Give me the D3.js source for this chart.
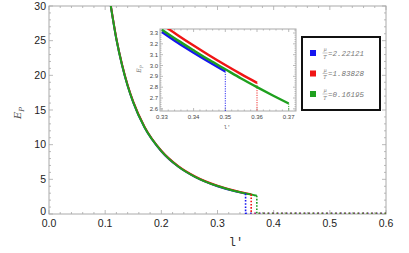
<!DOCTYPE html>
<html>
<head>
<meta charset="utf-8">
<script src="https://cdn.jsdelivr.net/npm/d3@7"></script>
<style>
  body { margin: 0; background: #fff; }
  svg { display: block; }
</style>
</head>
<body>
<script>
// values
const lValues = [0.11, 0.12, 0.13, 0.14, 0.15, 0.17, 0.20, 0.23, 0.26, 0.30, 0.33, 0.335, 0.34, 0.345, 0.35, 0.355, 0.36, 0.365, 0.37];
const blueE  = [30.0, 25.2, 21.5, 18.5, 16.1, 12.5, 9.05, 6.84, 5.35, 4.01, 3.31, 3.21, 3.118, 3.030, 2.945, null, null, null, null];
const redE   = [30.1, 25.3, 21.6, 18.6, 16.2, 12.6, 9.12, 6.90, 5.41, 4.07, 3.38, 3.28, 3.184, 3.092, 3.004, 2.92, 2.84, null, null];
const greenE = [30.0, 25.2, 21.5, 18.5, 16.1, 12.5, 9.07, 6.86, 5.37, 4.03, 3.33, 3.232, 3.140, 3.050, 2.965, 2.880, 2.800, 2.723, 2.649];
const cutoffs = [0.35, 0.36, 0.37];
const muT = ["2.22121", "1.83828", "0.16195"];
const colors = ["#1515f0", "#f01515", "#1ea01e"];
const xTicks = [0.0, 0.1, 0.2, 0.3, 0.4, 0.5, 0.6];
const yTicks = [0, 5, 10, 15, 20, 25, 30];
const insetXTicks = [0.33, 0.34, 0.35, 0.36, 0.37];
const insetYTicks = [2.6, 2.7, 2.8, 2.9, 3.0, 3.1, 3.2, 3.3];

const width = 409, height = 253;
const series = [blueE, redE, greenE].map((vals, i) => ({
  color: colors[i],
  cut: cutoffs[i],
  pts: lValues.map((l, j) => ({l, e: vals[j]})).filter(p => p.e != null)
}));

const svg = d3.select("body").append("svg").attr("width", width).attr("height", height);
const defs = svg.append("defs");

function frame(g, x, y, xt, yt, xMinor, yMinor, big, fmtX, fmtY) {
  const [x0, x1] = x.range(), [y0, y1] = y.range();
  const tickCol = "#aaa";
  g.append("rect").attr("x", x0).attr("y", y1).attr("width", x1 - x0).attr("height", y0 - y1)
    .attr("fill", "none").attr("stroke", tickCol).attr("stroke-width", 1);
  const maj = big ? 4 : 3, mn = big ? 2 : 1.5;
  const tk = g.append("g").attr("stroke", tickCol).attr("stroke-width", 0.8);
  xMinor.forEach(v => {
    const L = xt.some(t => Math.abs(t - v) < 1e-9) ? maj : mn;
    tk.append("line").attr("x1", x(v)).attr("x2", x(v)).attr("y1", y0).attr("y2", y0 - L);
    tk.append("line").attr("x1", x(v)).attr("x2", x(v)).attr("y1", y1).attr("y2", y1 + L);
  });
  yMinor.forEach(v => {
    const L = yt.some(t => Math.abs(t - v) < 1e-9) ? maj : mn;
    tk.append("line").attr("y1", y(v)).attr("y2", y(v)).attr("x1", x0).attr("x2", x0 + L);
    tk.append("line").attr("y1", y(v)).attr("y2", y(v)).attr("x1", x1).attr("x2", x1 - L);
  });
  const fs = big ? 10.5 : 6;
  g.append("g").selectAll("text").data(xt).join("text")
    .attr("x", d => x(d)).attr("y", y0 + (big ? 12.5 : 8)).attr("text-anchor", "middle")
    .attr("font-family", "Liberation Sans, Arial, sans-serif").attr("font-size", fs)
    .attr("fill", big ? "#222" : "#444").text(fmtX);
  g.append("g").selectAll("text").data(yt).join("text")
    .attr("x", x0 - (big ? 3 : 2)).attr("y", d => y(d) - (big && d === yt[0] ? 2.5 : 0))
    .attr("dy", "0.35em").attr("text-anchor", "end")
    .attr("font-family", "Liberation Sans, Arial, sans-serif").attr("font-size", fs)
    .attr("fill", big ? "#222" : "#444").text(fmtY);
}

// ---- main plot
const x = d3.scaleLinear([0, 0.6], [49, 386]);
const y = d3.scaleLinear([0, 30], [214, 6]);
const main = svg.append("g");
frame(main, x, y, xTicks, yTicks, d3.range(0, 0.6001, 0.02), d3.range(0, 30.001, 1), true,
  d3.format(".1f"), d3.format("d"));

defs.append("clipPath").attr("id", "mainClip").append("rect")
  .attr("x", 49).attr("y", 6).attr("width", 337).attr("height", 208);

const line = d3.line().curve(d3.curveMonotoneX).x(d => x(d.l)).y(d => y(d.e));
const mg = main.append("g").attr("clip-path", "url(#mainClip)");
series.forEach(s => {
  mg.append("path").attr("d", line(s.pts)).attr("fill", "none")
    .attr("stroke", s.color).attr("stroke-width", 2);
});
series.forEach(s => {
  const last = s.pts[s.pts.length - 1];
  mg.append("line").attr("x1", x(s.cut)).attr("x2", x(s.cut)).attr("y1", y(last.e)).attr("y2", y(0))
    .attr("stroke", s.color).attr("stroke-width", 1.6).attr("stroke-dasharray", "1.6,1.6");
});
series.forEach((s, i) => {
  mg.append("line").attr("x1", x(s.cut)).attr("x2", x(0.6)).attr("y1", y(0) - 0.8).attr("y2", y(0) - 0.8)
    .attr("stroke", s.color).attr("stroke-width", 1.6).attr("stroke-dasharray", "1.5,3")
    .attr("stroke-dashoffset", i * 1.5).attr("opacity", 0.7);
});

// axis labels
const ey = svg.append("text").attr("transform", "translate(21,113) rotate(-90)")
  .attr("text-anchor", "middle").attr("font-family", "DejaVu Serif, serif").attr("font-style", "italic")
  .attr("font-size", 10).attr("fill", "#555");
ey.append("tspan").text("E");
ey.append("tspan").attr("font-size", 7).attr("dy", 3).text("P");
svg.append("text").attr("x", 236).attr("y", 246).attr("text-anchor", "middle")
  .attr("font-family", "Liberation Mono, monospace").attr("font-size", 12).attr("fill", "#333").text("l'");

// ---- inset
const xi = d3.scaleLinear([0.3294, 0.3723], [160, 296]);
const yi = d3.scaleLinear([2.58, 3.337], [111, 29]);
const inset = svg.append("g");
inset.append("rect").attr("x", 160).attr("y", 29).attr("width", 136).attr("height", 82).attr("fill", "#fff");
frame(inset, xi, yi, insetXTicks, insetYTicks, d3.range(0.33, 0.3721, 0.002), d3.range(2.6, 3.3301, 0.02), false,
  d3.format(".2f"), d3.format(".1f"));
defs.append("clipPath").attr("id", "insetClip").append("rect")
  .attr("x", 160).attr("y", 29).attr("width", 136).attr("height", 82);
const lineI = d3.line().curve(d3.curveMonotoneX).x(d => xi(d.l)).y(d => yi(d.e));
const ig = inset.append("g").attr("clip-path", "url(#insetClip)");
series.forEach(s => {
  const last = s.pts[s.pts.length - 1];
  ig.append("line").attr("x1", xi(s.cut)).attr("x2", xi(s.cut)).attr("y1", yi(last.e)).attr("y2", 111)
    .attr("stroke", s.color).attr("stroke-width", 0.9).attr("stroke-dasharray", "1.2,1.2");
});
series.forEach(s => {
  ig.append("path").attr("d", lineI(s.pts.filter(p => p.l >= 0.32))).attr("fill", "none")
    .attr("stroke", s.color).attr("stroke-width", 2.4);
});
const eyi = svg.append("text").attr("transform", "translate(141,69) rotate(-90)")
  .attr("text-anchor", "middle").attr("font-family", "DejaVu Serif, serif").attr("font-style", "italic")
  .attr("font-size", 6).attr("fill", "#666");
eyi.append("tspan").text("E");
eyi.append("tspan").attr("font-size", 4.5).attr("dy", 2).text("P");
svg.append("text").attr("x", 227).attr("y", 129).attr("text-anchor", "middle")
  .attr("font-family", "Liberation Mono, monospace").attr("font-size", 6).attr("fill", "#666").text("l'");

// ---- legend
const lg = svg.append("g");
lg.append("rect").attr("x", 302).attr("y", 37).attr("width", 78).attr("height", 73)
  .attr("fill", "#fff").attr("stroke", "#111").attr("stroke-width", 2);
muT.forEach((v, i) => {
  const cy = 53 + i * 20.5;
  lg.append("rect").attr("x", 310).attr("y", cy - 3).attr("width", 6).attr("height", 6).attr("fill", colors[i]);
  const fr = lg.append("g").attr("font-family", "DejaVu Serif, serif").attr("font-style", "italic")
    .attr("font-size", 5).attr("fill", "#777").attr("text-anchor", "middle");
  fr.append("text").attr("x", 325).attr("y", cy - 2).text("μ");
  fr.append("line").attr("x1", 322.5).attr("x2", 327.5).attr("y1", cy).attr("y2", cy)
    .attr("stroke", "#888").attr("stroke-width", 0.5);
  fr.append("text").attr("x", 325).attr("y", cy + 5.5).text("T");
  lg.append("text").attr("x", 328).attr("y", cy).attr("dy", "0.35em")
    .attr("font-family", "Liberation Mono, monospace").attr("font-style", "italic")
    .attr("font-size", 7.5).attr("fill", "#777").text("=" + v);
});
</script>
</body>
</html>
